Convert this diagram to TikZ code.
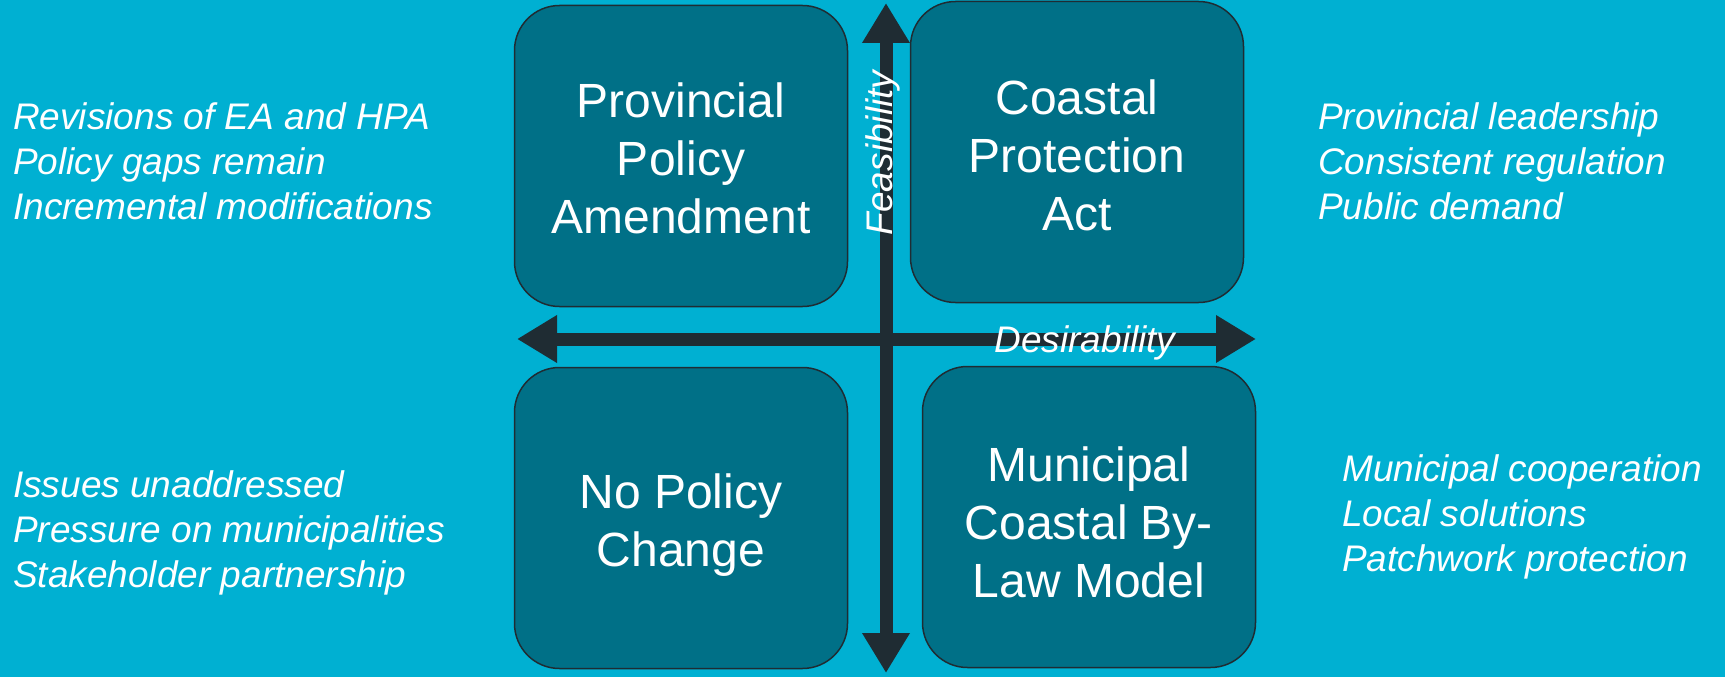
\documentclass[tikz,border=0pt]{standalone}
\usepackage{fontspec}
\setmainfont{Liberation Sans}
\usetikzlibrary{arrows.meta, positioning}

\definecolor{seablue}{RGB}{0,176,210}
\definecolor{deepteal}{RGB}{0,112,135}
\definecolor{axisgray}{RGB}{31,44,51}

\begin{document}
\begin{tikzpicture}[x=1pt, y=-1pt]
        \tikzset{
            option/.style={draw=axisgray, line width=1.5pt, fill=deepteal, rounded corners=45pt, minimum width=333pt, minimum height=301pt}, % the four policy boxes
            optiontext/.style={text=white, align=center, font=\fontsize{48}{58}\selectfont}, % names inside the boxes
            notes/.style={text=white, align=left, inner sep=0pt, anchor=west, font=\fontsize{37}{45}\selectfont\itshape}, % the side remarks
            axislabel/.style={text=white, inner sep=0pt, font=\fontsize{37}{45}\selectfont\itshape},
            axis/.style={draw=axisgray, line width=13pt, {Triangle[width=45pt, length=40pt]}-{Triangle[width=45pt, length=40pt]}}, % double headed axes
            }

        % background
        \fill[seablue] (0,0) rectangle (1725,677);
        \useasboundingbox (0,0) rectangle (1725,677);

        % boxes
        \node[option] (amend_box) at (681,156) {};
        \node[option] (act_box) at (1077,152) {};
        \node[option] (nochange_box) at (681,518) {};
        \node[option] (bylaw_box) at (1089,517) {};

        % box names
        \node[optiontext, yshift=-2pt] (amend_text) at (amend_box) {Provincial\\Policy\\Amendment};
        \node[optiontext, yshift=-3pt] (act_text) at (act_box) {Coastal\\Protection\\Act};
        \node[optiontext, yshift=-7pt] (nochange_text) at (nochange_box) {No Policy\\Change};
        \node[optiontext, yshift=-5pt] (bylaw_text) at (bylaw_box) {Municipal\\Coastal By-\\Law Model};

        % axis ends
        \coordinate (feas_top) at (886,3);
        \coordinate (feas_bottom) at (886,673);
        \coordinate (des_left) at (517,339);
        \coordinate (des_right) at (1256,339);

        % axes
        \draw[axis] (des_left) -- (des_right);
        \draw[axis] (feas_bottom) -- (feas_top);
        \node[axislabel, rotate=90] (feas_label) at (883,153) {Feasibility};
        \node[axislabel] (des_label) at (1085,343) {Desirability};

        % side remarks
        \node[notes] (amend_notes) at (13,161) {Revisions of EA and HPA\\Policy gaps remain\\Incremental modifications};
        \node[notes] (act_notes) at (1318,161) {Provincial leadership\\Consistent regulation\\Public demand};
        \node[notes] (nochange_notes) at (13,533) {Issues unaddressed\\Pressure on municipalities\\Stakeholder partnership};
        \node[notes] (bylaw_notes) at (1342,517) {Municipal cooperation\\Local solutions\\Patchwork protection};
    \end{tikzpicture}
\end{document}
